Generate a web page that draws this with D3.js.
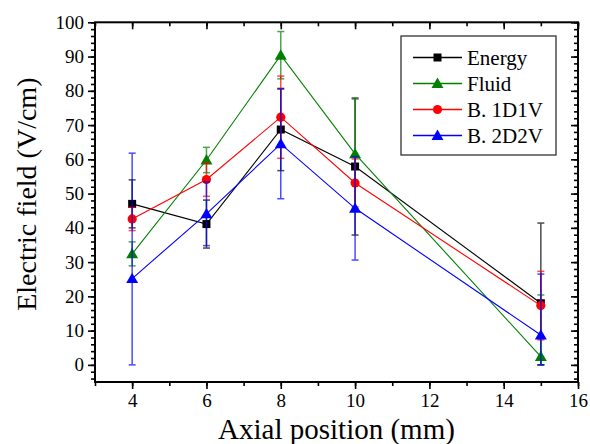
<!DOCTYPE html>
<html>
<head>
<meta charset="utf-8">
<script src="https://cdn.jsdelivr.net/npm/d3@7"></script>
<style>
  body { margin: 0; background: #fff; }
  svg { display: block; }
</style>
</head>
<body>
<svg id="chart" width="590" height="444"></svg>
<script>
// Axial positions (mm)
const positions = [4, 6, 8, 10, 15];

// Electric field (V/cm) and error half-widths per model
const energy     = [47.0, 41.1, 68.7, 57.9, 18.0];
const energyErr  = [7.0, 7.0, 12.0, 20.0, 23.4];
const fluid      = [32.4, 59.8, 90.4, 61.6, 2.4];
const fluidErr   = [3.5, 3.7, 6.9, 16.0, 18.0];
const b1d1v      = [42.6, 54.1, 72.3, 53.1, 17.3];
const b1d1vErr   = [3.4, 4.9, 12.0, 7.0, 10.0];
const b2d2v      = [25.2, 44.1, 64.5, 45.7, 8.7];
const b2d2vErr   = [36.6, 9.3, 16.0, 15.1, 17.8];

const seriesNames = ["Energy", "Fluid", "B. 1D1V", "B. 2D2V"];
const xTicks = [4, 6, 8, 10, 12, 14, 16];
const yTicks = [0, 10, 20, 30, 40, 50, 60, 70, 80, 90, 100];

const serifFont = "Times, 'Times New Roman', 'Nimbus Roman', Tinos, 'Noto Serif', 'Liberation Serif', 'DejaVu Serif', serif";

const series = [
  { name: seriesNames[0], values: energy, err: energyErr, color: "#000000", symbol: d3.symbolSquare, size: 64 },
  { name: seriesNames[1], values: fluid,  err: fluidErr,  color: "#008000", symbol: d3.symbolTriangle, size: 62 },
  { name: seriesNames[2], values: b1d1v,  err: b1d1vErr,  color: "#ff0000", symbol: d3.symbolCircle, size: 66 },
  { name: seriesNames[3], values: b2d2v,  err: b2d2vErr,  color: "#0000ff", symbol: d3.symbolTriangle, size: 62 }
];

const svg = d3.select("#chart").attr("font-family", serifFont);
const plotLeft = 95, plotRight = 578, plotTop = 22.3, plotBottom = 382;

const x = d3.scaleLinear().domain([3, 16]).range([plotLeft, plotRight]);
const y = d3.scaleLinear().domain([-5, 100]).range([plotBottom, plotTop]);

const xMinor = d3.range(3, 16.01, 1);
const yMinor = d3.range(-4, 100.01, 2);

function styleAxis(g) {
  g.attr("font-family", serifFont);
  g.select(".domain").remove();
  g.selectAll(".tick line").attr("stroke", "#000").attr("stroke-width", 1.6);
  g.selectAll(".tick text").attr("font-family", serifFont).attr("font-size", 19).attr("fill", "#000");
}

// bottom axis: minor then major ticks, pointing down
svg.append("g").attr("transform", `translate(0,${plotBottom})`)
  .call(d3.axisBottom(x).tickValues(xMinor).tickSize(4).tickFormat(""))
  .call(styleAxis);
svg.append("g").attr("transform", `translate(0,${plotBottom})`)
  .call(d3.axisBottom(x).tickValues(xTicks).tickSize(7).tickPadding(5).tickFormat(d3.format("d")))
  .call(styleAxis);

// top axis: ticks pointing down into the frame
svg.append("g").attr("transform", `translate(0,${plotTop})`)
  .call(d3.axisBottom(x).tickValues(xMinor).tickSize(4).tickFormat(""))
  .call(styleAxis);
svg.append("g").attr("transform", `translate(0,${plotTop})`)
  .call(d3.axisBottom(x).tickValues(xTicks).tickSize(7).tickFormat(""))
  .call(styleAxis);

// left axis: ticks pointing outward
svg.append("g").attr("transform", `translate(${plotLeft},0)`)
  .call(d3.axisLeft(y).tickValues(yMinor).tickSize(4).tickFormat(""))
  .call(styleAxis);
svg.append("g").attr("transform", `translate(${plotLeft},0)`)
  .call(d3.axisLeft(y).tickValues(yTicks).tickSize(7).tickPadding(4).tickFormat(d3.format("d")))
  .call(styleAxis);

// right axis: ticks pointing left into the frame
svg.append("g").attr("transform", `translate(${plotRight},0)`)
  .call(d3.axisLeft(y).tickValues(yMinor).tickSize(4).tickFormat(""))
  .call(styleAxis);
svg.append("g").attr("transform", `translate(${plotRight},0)`)
  .call(d3.axisLeft(y).tickValues(yTicks).tickSize(7).tickFormat(""))
  .call(styleAxis);

// frame
svg.append("rect")
  .attr("x", plotLeft).attr("y", plotTop)
  .attr("width", plotRight - plotLeft).attr("height", plotBottom - plotTop)
  .attr("fill", "none").attr("stroke", "#000").attr("stroke-width", 2);

// series: connecting line, error bars, symbols
const line = d3.line().x(d => x(d.x)).y(d => y(d.v));
series.forEach(s => {
  const pts = positions.map((p, i) => ({ x: p, v: s.values[i], e: s.err[i] }));
  const g = svg.append("g");

  g.append("path").datum(pts)
    .attr("d", line).attr("fill", "none")
    .attr("stroke", s.color).attr("stroke-width", 1.1);

  const eb = g.append("g").attr("stroke", s.color).attr("stroke-width", 1.5).attr("opacity", 0.7);
  pts.forEach(d => {
    const lo = Math.max(0, d.v - d.e), hi = d.v + d.e;
    eb.append("line").attr("x1", x(d.x)).attr("x2", x(d.x)).attr("y1", y(lo)).attr("y2", y(hi));
    [lo, hi].forEach(v => {
      eb.append("line").attr("x1", x(d.x) - 3.5).attr("x2", x(d.x) + 3.5).attr("y1", y(v)).attr("y2", y(v));
    });
  });

  g.selectAll("path.sym").data(pts).join("path")
    .attr("class", "sym")
    .attr("d", d3.symbol().type(s.symbol).size(s.size))
    .attr("transform", d => `translate(${x(d.x)},${y(d.v) + (s.symbol === d3.symbolTriangle ? 1 : 0)})`)
    .attr("fill", s.color);
});

// legend
const lg = svg.append("g").attr("font-family", serifFont);
lg.append("rect").attr("x", 401).attr("y", 36).attr("width", 155).attr("height", 119)
  .attr("fill", "#fff").attr("stroke", "#222").attr("stroke-width", 1.2);
series.forEach((s, i) => {
  const cy = 57.5 + i * 26;
  lg.append("line").attr("x1", 413).attr("x2", 462).attr("y1", cy).attr("y2", cy)
    .attr("stroke", s.color).attr("stroke-width", 1.3);
  lg.append("path").attr("d", d3.symbol().type(s.symbol).size(s.size))
    .attr("transform", `translate(437.5,${cy + (s.symbol === d3.symbolTriangle ? 1 : 0)})`)
    .attr("fill", s.color);
  lg.append("text").attr("x", 467).attr("y", cy + 7).attr("font-size", 21).text(s.name);
});

// axis titles
svg.append("text")
  .attr("x", (plotLeft + plotRight) / 2).attr("y", 439)
  .attr("text-anchor", "middle").attr("font-size", 29)
  .text("Axial position (mm)");
svg.append("text")
  .attr("transform", `translate(36,${(plotTop + plotBottom) / 2 - 8}) rotate(-90)`)
  .attr("text-anchor", "middle").attr("font-size", 28)
  .text("Electric field (V/cm)");
</script>
</body>
</html>
